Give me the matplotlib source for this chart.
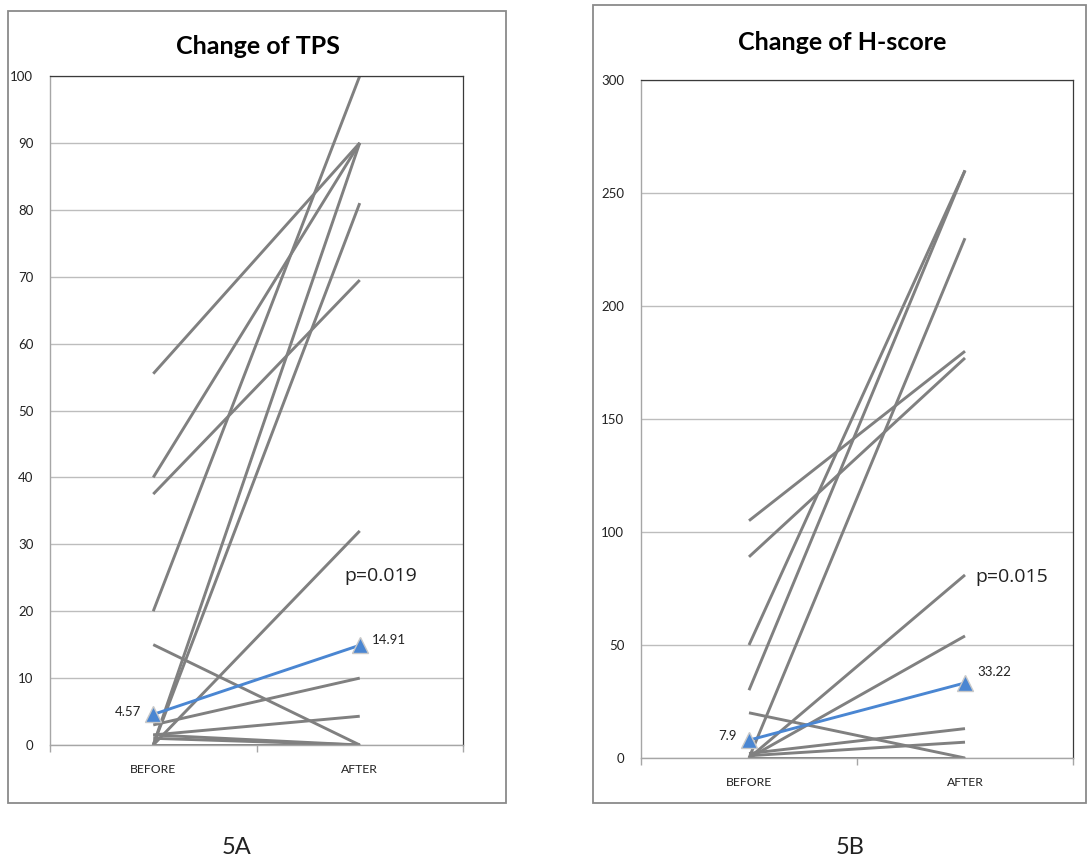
import matplotlib
matplotlib.use("Agg")
import matplotlib.pyplot as plt
from matplotlib.patches import Rectangle

# ---------------- data ----------------
categories = ["BEFORE", "AFTER"]

tps_before = [55.5, 40, 37.5, 20, 15, 0, 0, 0, 3, 1.5, 1.5, 1, 0]
tps_after = [90, 90, 69.5, 100, 0, 90, 81, 32, 10, 4.3, 0, 0, 0]
tps_mean = [4.57, 14.91]
tps_ticks = [0, 10, 20, 30, 40, 50, 60, 70, 80, 90, 100]
tps_title = "Change of TPS"
tps_p = "p=0.019"

h_before = [105, 89, 50, 30, 0, 0, 0, 20, 2, 1, 0]
h_after = [180, 177, 260, 260, 230, 81, 54, 0, 13, 7, 0]
h_mean = [7.9, 33.22]
h_ticks = [0, 50, 100, 150, 200, 250, 300]
h_title = "Change of H-score"
h_p = "p=0.015"

panel_labels = ["5A", "5B"]

# ---------------- style ----------------
W, H = 1088, 864
fig = plt.figure(figsize=(W / 100, H / 100), dpi=100)
fig.patch.set_facecolor("white")

GREY = "#808080"
BLUE = "#4A86D2"
FONT = "Lato"


def fx(px):
    return px / W


def fy(py):
    return 1 - py / H


def frame(x0, y0, x1, y1):
    fig.patches.append(Rectangle((fx(x0), fy(y1)), fx(x1) - fx(x0), fy(y0) - fy(y1),
                                 transform=fig.transFigure, fill=False,
                                 edgecolor="#8a8a8a", linewidth=1.3, zorder=0))


def panel(rect, before, after, mean, ticks, title, ptxt, title_xy, p_xy,
          mean_lbl_offsets):
    ax = fig.add_axes(rect)
    xs = [0, 1]
    for b, a in zip(before, after):
        ax.plot(xs, [b, a], color=GREY, lw=2.1, solid_capstyle="butt", zorder=2)
    ax.plot(xs, mean, color=BLUE, lw=2.1, zorder=3, marker="^", markersize=12,
            markerfacecolor=BLUE, markeredgecolor="#c8c8c8", markeredgewidth=1.0)
    (o1, o2) = mean_lbl_offsets
    ax.annotate(f"{mean[0]:g}", (0, mean[0]), xytext=o1, textcoords="offset points",
                ha="right", va="center", fontsize=9.5, family=FONT, color="#222222")
    ax.annotate(f"{mean[1]:g}", (1, mean[1]), xytext=o2, textcoords="offset points",
                ha="left", va="center", fontsize=9.5, family=FONT, color="#222222")
    ax.set_xlim(-0.5, 1.5)
    ax.set_ylim(ticks[0], ticks[-1])
    ax.set_yticks(ticks)
    ax.set_xticks(xs)
    ax.set_xticklabels(categories)
    ax.set_xticks([-0.5, 0.5, 1.5], minor=True)
    ax.tick_params(axis="x", which="major", length=0, pad=14, labelsize=8.8,
                   labelcolor="#222222")
    ax.tick_params(axis="x", which="minor", length=5, color="#a6a6a6", width=1)
    ax.tick_params(axis="y", length=0, pad=12, labelsize=9.5, labelcolor="#222222")
    for lab in ax.get_xticklabels() + ax.get_yticklabels():
        lab.set_family(FONT)
    ax.grid(axis="y", color="#bdbdbd", lw=1.0, zorder=0)
    ax.set_axisbelow(True)
    for s in ["top", "right"]:
        ax.spines[s].set_color("#3a3a3a")
        ax.spines[s].set_linewidth(0.9)
    for s in ["left", "bottom"]:
        ax.spines[s].set_color("#a6a6a6")
        ax.spines[s].set_linewidth(1.0)
    fig.text(fx(title_xy[0]), fy(title_xy[1]), title, ha="center", va="center",
             fontsize=18, fontweight="bold", family=FONT)
    fig.text(fx(p_xy[0]), fy(p_xy[1]), ptxt, ha="left", va="center",
             fontsize=14, family="Open Sans", color="#222222")
    return ax


frame(8, 11, 506, 803)
frame(593, 5, 1086, 803)

panel([fx(50), fy(745), fx(463) - fx(50), fy(76) - fy(745)],
      tps_before, tps_after, tps_mean, tps_ticks, tps_title, tps_p,
      (258, 46), (344, 576), ((-9, 2), (9, 4)))

panel([fx(641), fy(758), fx(1073) - fx(641), fy(80) - fy(758)],
      h_before, h_after, h_mean, h_ticks, h_title, h_p,
      (842, 42), (975, 577), ((-9, 3), (9, 8)))

fig.text(fx(237), fy(848), panel_labels[0], ha="center", va="center",
         fontsize=17, family=FONT, color="#222222")
fig.text(fx(850), fy(848), panel_labels[1], ha="center", va="center",
         fontsize=17, family=FONT, color="#222222")

fig.savefig("out.png", dpi=100, facecolor="white")
